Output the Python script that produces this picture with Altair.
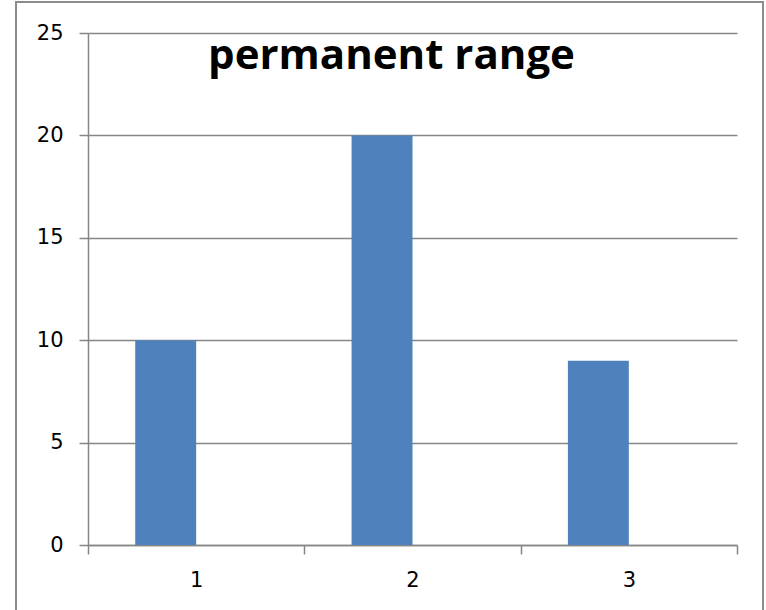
import altair as alt
import pandas as pd

# Chart values
categories = ["1", "2", "3"]
values = [10, 20, 9]
# Two series slots per category; only the first one carries data
series_slots = ["permanent range", "Series2"]
y_ticks = [0, 5, 10, 15, 20, 25]

df = pd.DataFrame({
    "category": categories,
    "value": values,
    "series": [series_slots[0]] * len(categories),
})

W, H = 649, 512
BAR_COLOR = "#4F81BD"
LINE_COLOR = "#868686"
LABEL_FONT = "DejaVu Sans"

bars = alt.Chart(df).mark_bar(color=BAR_COLOR).encode(
    x=alt.X(
        "category:N",
        sort=categories,
        scale=alt.Scale(paddingInner=0, paddingOuter=0),
        axis=alt.Axis(
            title=None,
            labelAngle=0,
            tickBand="extent",
            tickSize=9,
            tickColor=LINE_COLOR,
            tickWidth=1.5,
            domainColor=LINE_COLOR,
            domainWidth=1.5,
            labelFont=LABEL_FONT,
            labelFontSize=21,
            labelColor="#000000",
            labelPadding=15,
        ),
    ),
    xOffset=alt.XOffset(
        "series:N",
        scale=alt.Scale(domain=series_slots, paddingInner=0, paddingOuter=0.775),
    ),
    y=alt.Y(
        "value:Q",
        scale=alt.Scale(domain=[0, 25], nice=False),
        axis=alt.Axis(
            title=None,
            values=y_ticks,
            grid=True,
            gridColor=LINE_COLOR,
            gridWidth=1.5,
            tickSize=9,
            tickColor=LINE_COLOR,
            tickWidth=1.5,
            domainColor=LINE_COLOR,
            domainWidth=1.5,
            labelFont=LABEL_FONT,
            labelFontSize=21,
            labelColor="#000000",
            labelPadding=16,
        ),
    ),
)

# Outer chart border
frame = alt.Chart(df).mark_rect(
    fill=None, stroke="#8C8C8C", strokeWidth=2
).encode(
    x=alt.value(-72), x2=alt.value(675),
    y=alt.value(-31), y2=alt.value(600),
)

chart = alt.layer(frame, bars).properties(
    width=W,
    height=H,
    padding={"left": 88, "top": 33, "right": 29, "bottom": 65},
    autosize=alt.AutoSizeParams(type="none"),
    background="white",
    title=alt.Title(
        "permanent range",
        font="Open Sans",
        fontSize=42,
        fontWeight="bold",
        color="black",
        anchor="middle",
        orient="top",
        baseline="alphabetic",
        offset=0,
        dy=110,
        dx=-21,
    ),
).configure_view(stroke=None)

chart.save("out.html", embed_options={"renderer": "svg", "actions": False})
